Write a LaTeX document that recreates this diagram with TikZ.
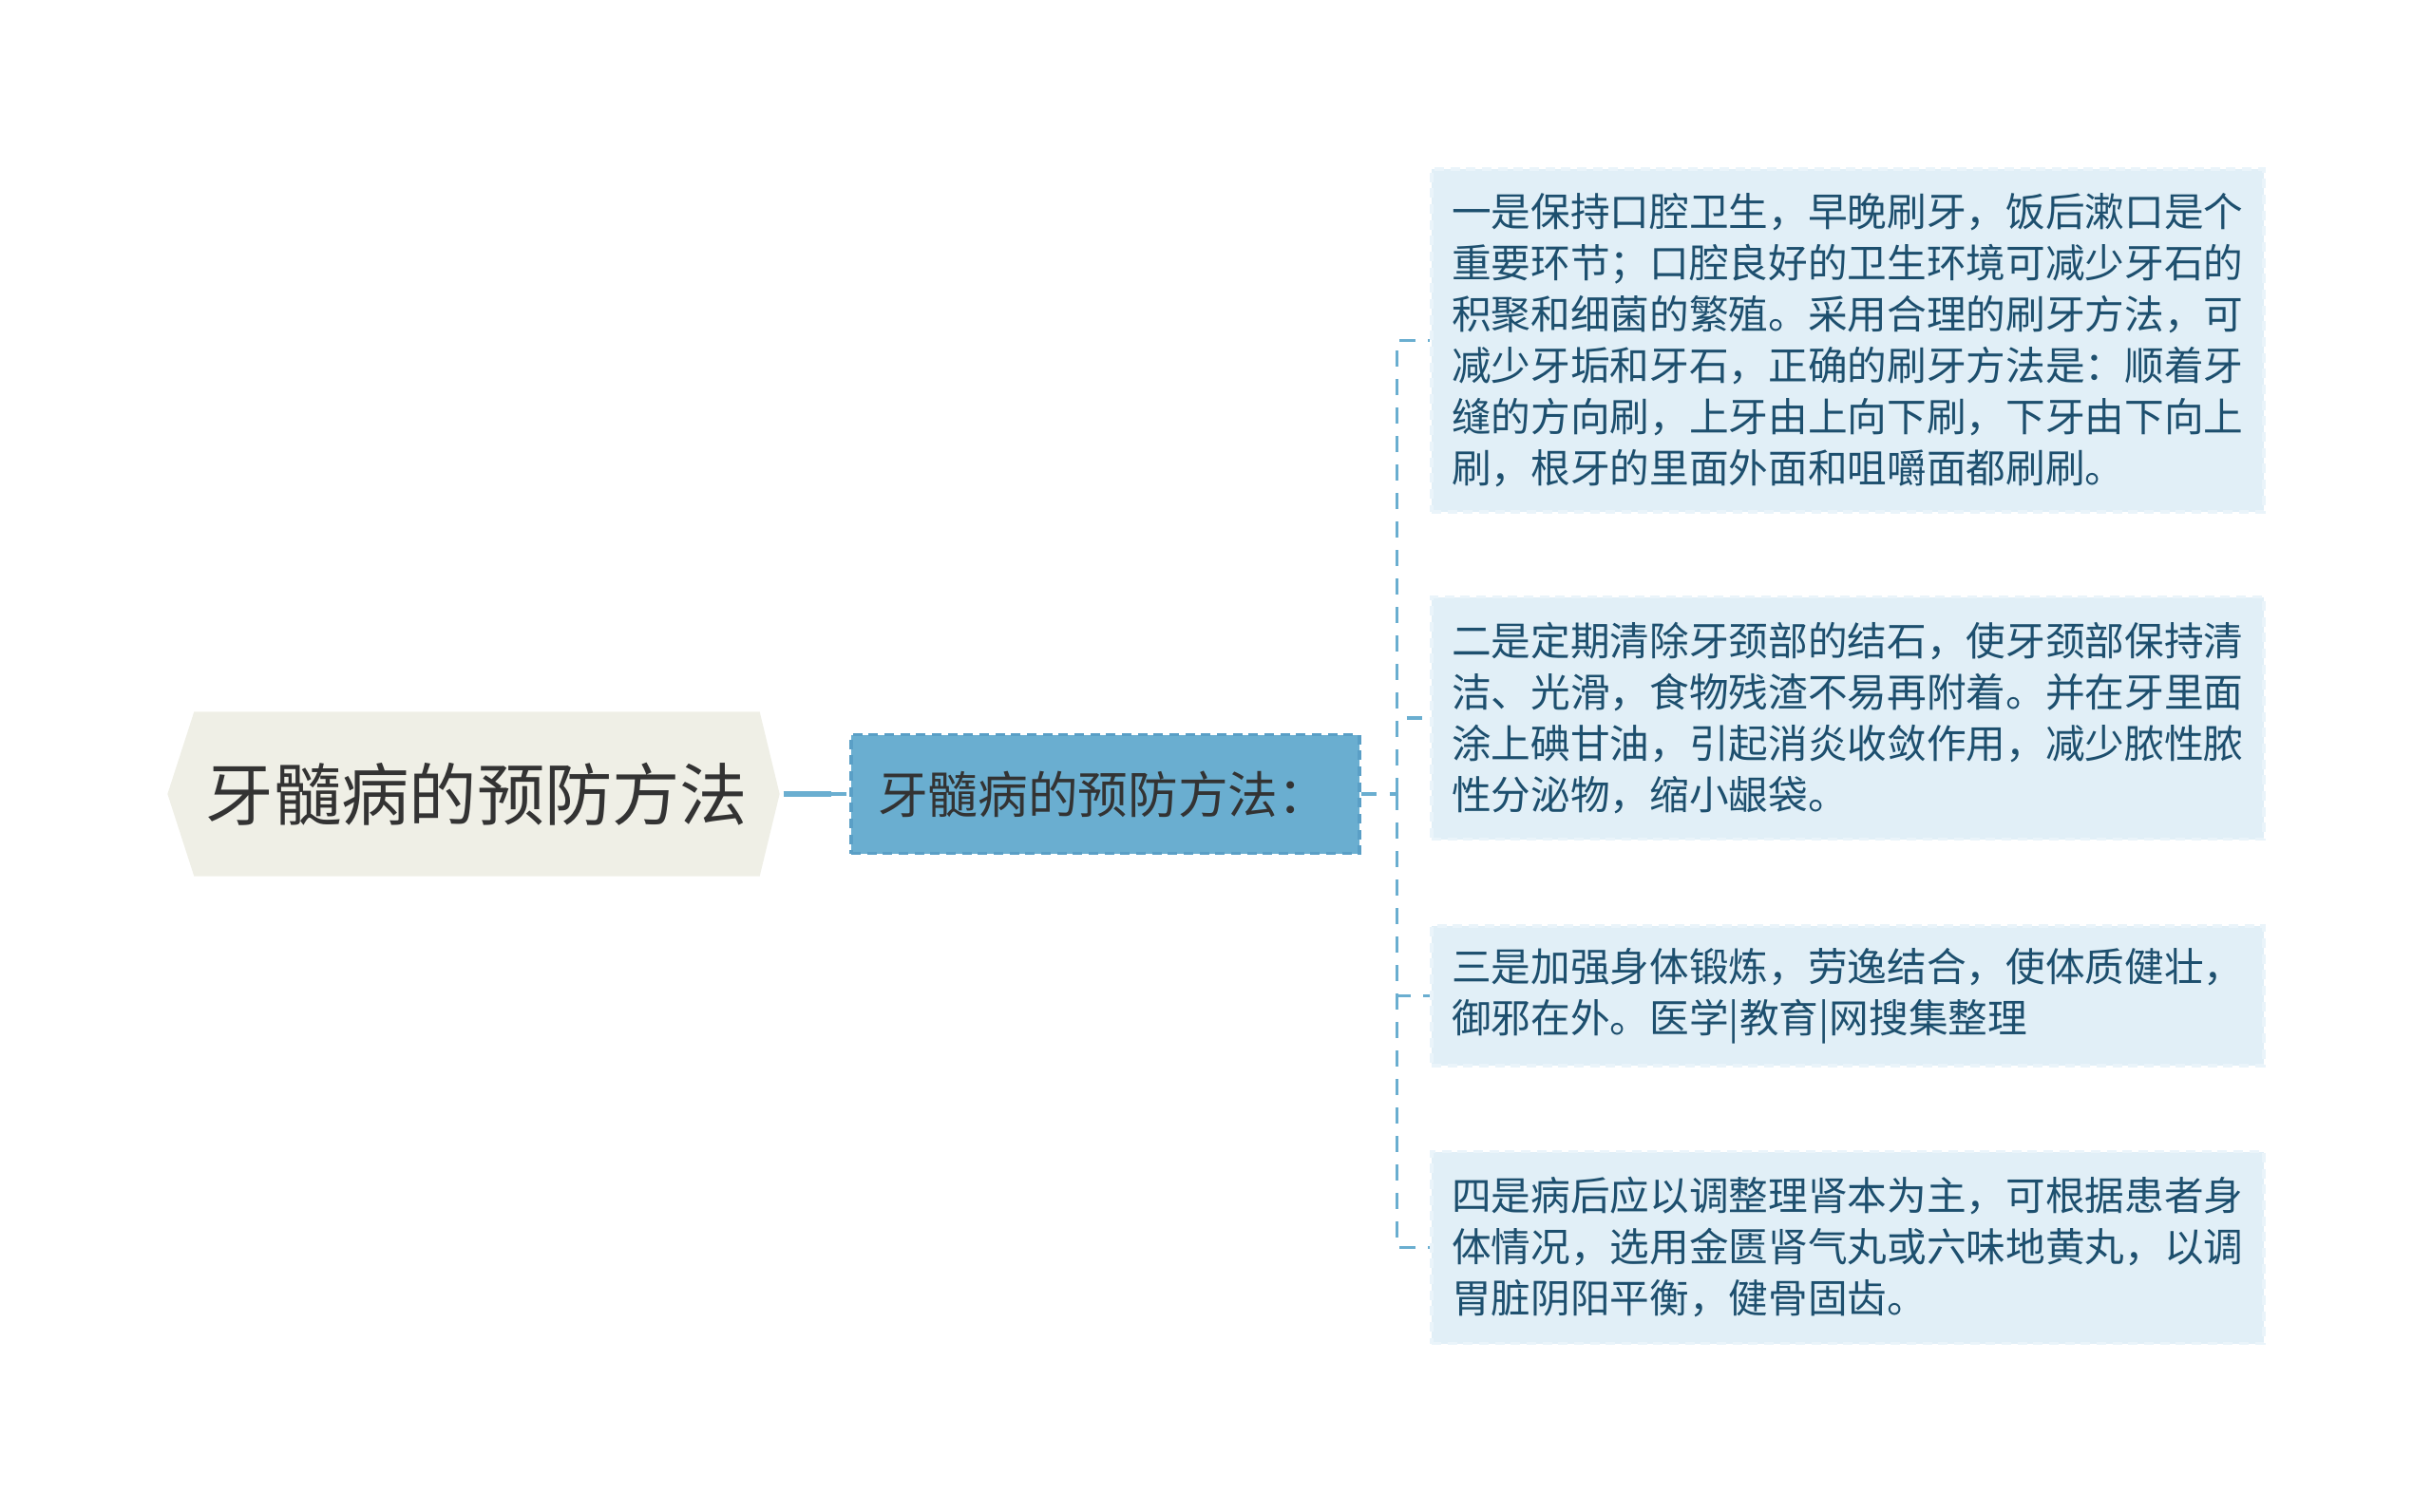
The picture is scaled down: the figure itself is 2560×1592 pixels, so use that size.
\documentclass[tikz,border=0pt]{standalone}
\usepackage{fontspec}
\setmainfont{Noto Sans CJK SC}
\usetikzlibrary{backgrounds}
\definecolor{rootfill}{HTML}{EFEFE6}
\definecolor{rootink}{HTML}{333333}
\definecolor{midfill}{HTML}{6AAED0}
\definecolor{midedge}{HTML}{5A9FC6}
\definecolor{leaffill}{HTML}{E1EFF7}
\definecolor{leafedge}{HTML}{EAF4FA}
\definecolor{leafink}{HTML}{1D4F6E}
\definecolor{linkcol}{HTML}{6AAED0}
\begin{document}
\begin{tikzpicture}
[x=0.3pt,y=-0.3pt,
  rootdecorate/.style={shape=rectangle,inner sep=0pt,minimum width=178.2pt,
    minimum height=51.6pt,text=rootink,font=\fontsize{21.4pt}{26pt}\selectfont},
  middecorate/.style={shape=rectangle,fill=midfill,draw=midedge,line width=1.1pt,
    dash pattern=on 3pt off 2pt,inner xsep=8.5pt,inner ysep=0pt,text width=143.5pt,
    align=left,minimum height=37.5pt,text=rootink,font=\fontsize{15.8pt}{19pt}\selectfont},
  leafdecorate/.style={shape=rectangle,fill=leaffill,draw=leafedge,line width=1.1pt,
    dash pattern=on 3pt off 2pt,inner xsep=6.4pt,inner ysep=0pt,text width=250pt,
    align=left,text=leafink,font=\fontsize{12.5pt}{16.2pt}\selectfont},
  linkdecorate/.style={draw=linkcol,line width=1pt,dash pattern=on 5pt off 4pt},
  rootlink/.style={draw=linkcol,line width=1.6pt}]
\useasboundingbox (0,0) rectangle (2560,1592);
%% nodes or vertices
\node (root) at (502,836) [rootdecorate] {牙髓病的预防方法};
\begin{scope}[on background layer]
  \fill[rootfill] (root.north west) -- (root.north east) -- ([xshift=6.3pt]root.east)
    -- (root.south east) -- (root.south west) -- ([xshift=-8.4pt]root.west) -- cycle;
\end{scope}
\coordinate (roottip) at ([xshift=7.5pt]root.east);
\node (mid) at (894,836) [middecorate,anchor=west] {牙髓病的预防方法：};
\foreach \name/\y/\h/\txt in {
  leaf1/358.5/108.3pt/{一是保持口腔卫生，早晚刷牙，饭后漱口是个\\重要环节；口腔良好的卫生环境可减少牙石的\\积聚和细菌的繁殖。采用合理的刷牙方法，可\\减少牙垢和牙石，正确的刷牙方法是：顺着牙\\缝的方向刷，上牙由上向下刷，下牙由下向上\\刷，根牙的里面外面和咀嚼面都刷刷。},
  leaf2/756/76.5pt/{二是定期清除牙颈部的结石，使牙颈部保持清\\洁、光滑，食物残渣不易再附着。并在牙里面\\涂上碘甘油，引起消炎收敛作用，减少脓性脓\\性分泌物，缩小龈袋。},
  leaf3/1048.5/44.1pt/{三是加强身体锻炼，劳逸结合，使体质健壮，\\御邪在外。医学|教育|网搜集整理},
  leaf4/1313.5/60.6pt/{四是病后应以调整理肾本为主，可根据患者身\\体情况，选用金匮肾气丸或六味地黄丸，以调\\胃脏阴阳平衡，健骨固齿。}} {
  \node (\name) at (1505,\y) [leafdecorate,anchor=west,minimum height=\h] {\txt};
}
%% edges or lines
\draw[rootlink] (roottip) -- ++(50,0) coordinate (rootstub);
\draw[linkdecorate] (rootstub) -- (mid.west);
\draw[linkdecorate] (mid.east) -- ++(38,0) coordinate (fork);
\foreach \name in {leaf1, leaf2, leaf3, leaf4} {
  \draw[linkdecorate] (fork) |- (\name.west);
}
\end{tikzpicture}
\end{document}
